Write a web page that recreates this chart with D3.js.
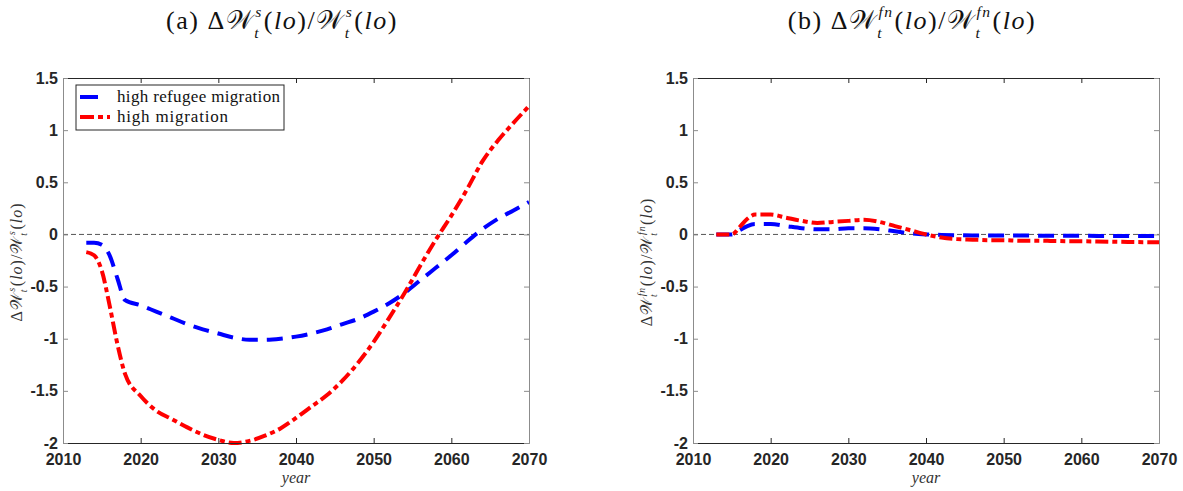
<!DOCTYPE html>
<html>
<head>
<meta charset="utf-8">
<script src="https://cdn.jsdelivr.net/npm/d3@7"></script>
<style>
  body { margin: 0; background: #fff; }
  svg { display: block; }
</style>
</head>
<body>
<div id="chart"></div>
<script>
const years = [2013, 2014, 2015, 2016, 2017, 2018, 2020, 2022, 2024, 2026, 2028, 2030, 2032, 2034, 2036, 2038, 2040,
               2042, 2044, 2046, 2048, 2050, 2052, 2054, 2056, 2058, 2060, 2062, 2064, 2066, 2068, 2070];

// panel (a)
const refugeeA = [-0.08, -0.08, -0.10, -0.20, -0.42, -0.63, -0.68, -0.74, -0.80, -0.86, -0.91, -0.95, -0.99, -1.01, -1.01, -1.00, -0.98,
                  -0.95, -0.91, -0.86, -0.81, -0.74, -0.66, -0.56, -0.44, -0.32, -0.20, -0.07, 0.05, 0.15, 0.23, 0.31];
const highA    = [-0.17, -0.20, -0.35, -0.68, -1.05, -1.34, -1.55, -1.69, -1.77, -1.85, -1.92, -1.97, -2.00, -1.98, -1.93, -1.86, -1.76,
                  -1.65, -1.54, -1.40, -1.23, -1.03, -0.80, -0.56, -0.30, -0.05, 0.18, 0.43, 0.70, 0.90, 1.07, 1.23];

// panel (b)
const refugeeB = [0, 0, 0, 0.04, 0.08, 0.10, 0.10, 0.08, 0.06, 0.05, 0.05, 0.06, 0.06, 0.05, 0.03, 0.01, 0.00,
                  -0.005, -0.008, -0.01, -0.01, -0.01, -0.01, -0.012, -0.012, -0.013, -0.013, -0.014, -0.014, -0.015, -0.015, -0.015];
const highB    = [0, 0, 0, 0.07, 0.15, 0.19, 0.19, 0.16, 0.13, 0.11, 0.12, 0.13, 0.14, 0.12, 0.08, 0.04, 0.00,
                  -0.03, -0.045, -0.05, -0.055, -0.055, -0.06, -0.06, -0.062, -0.065, -0.066, -0.068, -0.07, -0.072, -0.074, -0.075];

const xTicks = [2010, 2020, 2030, 2040, 2050, 2060, 2070];
const yTicks = [-2, -1.5, -1, -0.5, 0, 0.5, 1, 1.5];
const seriesNames = ["high refugee migration", "high migration"];

const width = 1183, height = 491;
const svg = d3.select("#chart").append("svg").attr("width", width).attr("height", height);

const serif = "'Liberation Serif', 'DejaVu Serif', serif";
const SCRIPT_W = "\u{1D4B2}";

// lays out a formula piece by piece, then centres it on (0,0)
function mathText(parent, pieces, size, color, spacing) {
    const g = parent.append("g");
    const inner = g.append("g");
    let x = 0;
    const put = (txt, px, py, fs, italic) => {
        const t = inner.append("text").attr("x", px).attr("y", py)
            .attr("font-family", serif).attr("font-size", fs).attr("fill", color)
            .attr("letter-spacing", spacing)
            .attr("font-style", italic ? "italic" : "normal").text(txt);
        return t.node().getComputedTextLength();
    };
    pieces.forEach(p => {
        if (p.sup !== undefined) {
            const fs = size * 0.6;
            const a = put(p.sup, x + size * 0.04, -size * 0.45, fs, true);
            const b = put(p.sub, x, size * 0.33, fs, true);
            x += Math.max(a, b) + size * 0.08;
        } else {
            x += put(p.t, x, 0, size, p.i);
        }
    });
    inner.attr("transform", `translate(${-x / 2},0)`);
    return g;
}

const y = d3.scaleLinear().domain([-2, 1.5]).range([443, 78]);

const panels = [
    {x0: 63, x1: 529, a: refugeeA, b: highA, tag: "(a)", sup: "s", legend: true},
    {x0: 693, x1: 1159, a: refugeeB, b: highB, tag: "(b)", sup: "fn", legend: false}
];

const styles = [
    {color: "#0000ff", dash: "16,9"},
    {color: "#ff0000", dash: "13,4,5,4"}
];

panels.forEach(p => {
    const x = d3.scaleLinear().domain([2010, 2070]).range([p.x0, p.x1]);
    const g = svg.append("g");

    // zero line
    g.append("line").attr("x1", p.x0).attr("x2", p.x1).attr("y1", y(0)).attr("y2", y(0))
        .attr("stroke", "#555").attr("stroke-width", 1).attr("stroke-dasharray", "5,3");

    const line = d3.line().x((d, i) => x(years[i])).y(d => y(d)).curve(d3.curveMonotoneX);
    [p.a, p.b].forEach((vals, k) => {
        g.append("path").datum(vals).attr("d", line)
            .attr("fill", "none").attr("stroke", styles[k].color).attr("stroke-width", 4)
            .attr("stroke-dasharray", styles[k].dash);
    });

    // axes, ticks pointing inward on all sides
    const bottom = g.append("g").attr("transform", `translate(0,${y(-2)})`)
        .call(d3.axisBottom(x).tickValues(xTicks).tickFormat(d3.format("d")).tickSizeInner(-5).tickSizeOuter(0).tickPadding(10.5));
    const top = g.append("g").attr("transform", `translate(0,${y(1.5)})`)
        .call(d3.axisTop(x).tickValues(xTicks).tickFormat("").tickSizeInner(-5).tickSizeOuter(0));
    const left = g.append("g").attr("transform", `translate(${p.x0},0)`)
        .call(d3.axisLeft(y).tickValues(yTicks).tickFormat(d => String(d)).tickSizeInner(-5).tickSizeOuter(0).tickPadding(5));
    const right = g.append("g").attr("transform", `translate(${p.x1},0)`)
        .call(d3.axisRight(y).tickValues(yTicks).tickFormat("").tickSizeInner(-5).tickSizeOuter(0));

    [bottom, top].forEach(a => a.selectAll("path, line").attr("stroke", "#262626"));
    [left, right].forEach(a => a.selectAll("path, line").attr("stroke", "#8c8c8c"));
    [bottom, left].forEach(a => a.selectAll("text")
        .attr("font-family", "'Liberation Sans', Arial, sans-serif").attr("font-weight", "bold")
        .attr("font-size", 16).attr("fill", "#262626"));

    // x label
    svg.append("text").attr("x", (p.x0 + p.x1) / 2).attr("y", 483).attr("text-anchor", "middle")
        .attr("font-family", serif).attr("font-style", "italic").attr("font-size", 16).attr("fill", "#333")
        .text("year");

    // title
    const tg = mathText(svg, [
        {t: p.tag + "  \u0394"}, {t: SCRIPT_W}, {sup: p.sup, sub: "t"},
        {t: "("}, {t: "lo", i: true}, {t: ")/"}, {t: SCRIPT_W}, {sup: p.sup, sub: "t"},
        {t: "("}, {t: "lo", i: true}, {t: ")"}
    ], 26, "#111", 1.5);
    tg.attr("transform", `translate(${(p.x0 + p.x1) / 2 - 14},29)`);

    // y label
    const yl = mathText(svg, [
        {t: "\u0394"}, {t: SCRIPT_W}, {sup: p.sup, sub: "t"},
        {t: "("}, {t: "lo", i: true}, {t: ")/"}, {t: SCRIPT_W}, {sup: p.sup, sub: "t"},
        {t: "("}, {t: "lo", i: true}, {t: ")"}
    ], 16, "#333", 1);
    yl.attr("transform", `translate(${p.x0 - 41},262) rotate(-90)`);

    if (p.legend) {
        const lg = svg.append("g");
        lg.append("rect").attr("x", 76).attr("y", 85).attr("width", 208).attr("height", 45)
            .attr("fill", "#fff").attr("stroke", "#262626").attr("stroke-width", 1);
        seriesNames.forEach((name, k) => {
            const ly = 97 + k * 20;
            lg.append("line").attr("x1", 80).attr("x2", 110).attr("y1", ly).attr("y2", ly)
                .attr("stroke", styles[k].color).attr("stroke-width", 4)
                .attr("stroke-dasharray", k === 0 ? "18,12" : "14,4,5,4");
            const t = lg.append("text").attr("x", 117).attr("y", ly + 4.5)
                .attr("font-family", serif).attr("font-size", 17).attr("fill", "#111")
                .text(name);
            if (k === 0) t.attr("textLength", 163).attr("lengthAdjust", "spacing");
            else t.attr("letter-spacing", 0.8);
        });
    }
});
</script>
</body>
</html>
